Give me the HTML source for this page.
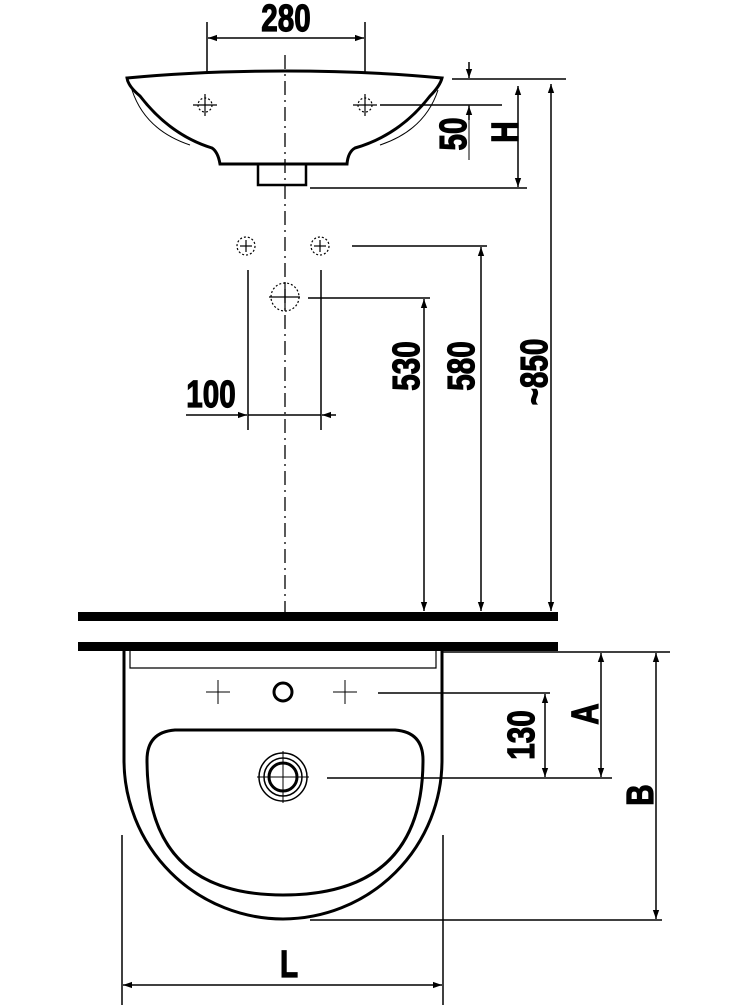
<!DOCTYPE html>
<html><head><meta charset="utf-8"><style>html,body{margin:0;padding:0;background:#fff}svg{display:block}</style></head>
<body>
<svg width="750" height="1005" viewBox="0 0 750 1005" xmlns="http://www.w3.org/2000/svg" font-family="Liberation Sans, sans-serif" font-weight="bold">
<defs>
<marker id="a" viewBox="0 0 10 10" refX="10" refY="5" markerWidth="9" markerHeight="9" orient="auto-start-reverse" markerUnits="userSpaceOnUse"><path d="M0,1.5 L10,5 L0,8.5 z" fill="#000"/></marker>
</defs>
<g stroke="#000" fill="none" stroke-width="1.5">
<line x1="207" y1="22" x2="207" y2="72"/><line x1="365" y1="22" x2="365" y2="72"/>
<line x1="208" y1="38" x2="364" y2="38" marker-start="url(#a)" marker-end="url(#a)"/>
<path d="M127,78 Q200,71 285,71 Q370,71 442,78 Q440,86 430,96 Q400,135 355,148 Q348,152 347,164 L220,164 Q218,152 212,148 Q170,135 140,96 Q128,86 127,78 Z" stroke-width="3"/>
<path d="M132,90 Q145,130 190,145 M438,90 Q425,130 380,145" stroke-width="1"/>
<path d="M258,165 L258,185 L306,185 L306,165" stroke-width="2.5"/>
<g stroke-width="1.2"><line x1="193" y1="105" x2="217" y2="105"/><line x1="205" y1="94" x2="205" y2="116"/><circle cx="205" cy="105" r="7" stroke-dasharray="2 2"/>
<line x1="353" y1="105" x2="377" y2="105"/><line x1="365" y1="94" x2="365" y2="116"/><circle cx="365" cy="105" r="7" stroke-dasharray="2 2"/></g>
<line x1="285" y1="55" x2="285" y2="612" stroke-dasharray="14 5 2 5" stroke-width="1.3"/>
<line x1="452" y1="79" x2="566" y2="79"/>
<line x1="380" y1="105" x2="502" y2="105"/>
<line x1="310" y1="188" x2="527" y2="188"/>
<line x1="469" y1="62" x2="469" y2="78" marker-end="url(#a)"/>
<line x1="469" y1="120" x2="469" y2="106" marker-end="url(#a)"/>
<line x1="469" y1="105" x2="469" y2="160" stroke-width="1"/>
<line x1="518" y1="86" x2="518" y2="187" marker-start="url(#a)" marker-end="url(#a)"/>
<line x1="551" y1="84" x2="551" y2="611" marker-start="url(#a)" marker-end="url(#a)"/>
<g stroke-width="1.2"><circle cx="246" cy="246" r="9" stroke-dasharray="2 2"/><line x1="240" y1="246" x2="252" y2="246"/><line x1="246" y1="240" x2="246" y2="252"/>
<circle cx="320" cy="246" r="9" stroke-dasharray="2 2"/><line x1="314" y1="246" x2="326" y2="246"/><line x1="320" y1="240" x2="320" y2="252"/>
<circle cx="285" cy="297" r="14" stroke-dasharray="2 2"/><line x1="269" y1="297" x2="300" y2="297"/><line x1="285" y1="283" x2="285" y2="311"/></g>
<line x1="248" y1="270" x2="248" y2="430"/><line x1="321" y1="270" x2="321" y2="430"/>
<line x1="186" y1="415" x2="247" y2="415" marker-end="url(#a)"/>
<line x1="248" y1="415" x2="321" y2="415"/>
<line x1="336" y1="415" x2="322" y2="415" marker-end="url(#a)"/>
<line x1="352" y1="246" x2="487" y2="246"/>
<line x1="308" y1="298" x2="430" y2="298"/>
<line x1="424" y1="299" x2="424" y2="611" marker-start="url(#a)" marker-end="url(#a)"/>
<line x1="481" y1="247" x2="481" y2="611" marker-start="url(#a)" marker-end="url(#a)"/>
</g>
<rect x="78" y="612" width="480" height="9" fill="#000"/>
<rect x="78" y="642" width="480" height="9" fill="#000"/>
<g stroke="#000" fill="none" stroke-width="1.5">
<path d="M124,651 L124,760 A159,159 0 0 0 442,760 L442,651" stroke-width="3"/>
<path d="M130,651 L130,668 L436,668 L436,651" stroke-width="1.2"/>
<g stroke-width="1"><line x1="206" y1="692" x2="230" y2="692"/><line x1="218" y1="680" x2="218" y2="704"/>
<line x1="333" y1="692" x2="357" y2="692"/><line x1="345" y1="680" x2="345" y2="704"/></g>
<circle cx="283" cy="692" r="9" stroke-width="3"/>
<path d="M175,730 L395,730 Q423,732 423,760 Q423,895 283,895 Q147,895 147,760 Q147,732 175,730 Z" stroke-width="3"/>
<circle cx="283" cy="777" r="24" stroke-width="1.5"/>
<circle cx="283" cy="777" r="19" stroke-width="1.5"/>
<circle cx="283" cy="777" r="14" stroke-width="3"/>
<line x1="257" y1="777" x2="309" y2="777" stroke-width="1"/><line x1="283" y1="751" x2="283" y2="803" stroke-width="1"/>
<line x1="378" y1="693" x2="550" y2="693"/>
<line x1="327" y1="778" x2="612" y2="778"/>
<line x1="442" y1="652" x2="670" y2="652"/>
<line x1="310" y1="920" x2="662" y2="920"/>
<line x1="545" y1="694" x2="545" y2="777" marker-start="url(#a)" marker-end="url(#a)"/>
<line x1="601" y1="653" x2="601" y2="777" marker-start="url(#a)" marker-end="url(#a)"/>
<line x1="656" y1="653" x2="656" y2="919" marker-start="url(#a)" marker-end="url(#a)"/>
<line x1="122" y1="835" x2="122" y2="1005"/><line x1="443" y1="835" x2="443" y2="1005"/>
<line x1="123" y1="985" x2="442" y2="985" marker-start="url(#a)" marker-end="url(#a)"/>
</g>
<g font-size="38" fill="#000" stroke="#000" stroke-width="1.2">
<text transform="translate(286,31) scale(0.78,1)" text-anchor="middle">280</text>
<text transform="translate(211,407) scale(0.78,1)" text-anchor="middle">100</text>
<text transform="translate(289,977) scale(0.78,1)" text-anchor="middle">L</text>
<text transform="translate(466,134) rotate(-90) scale(0.78,1)" text-anchor="middle">50</text>
<text transform="translate(518,132) rotate(-90) scale(0.78,1)" text-anchor="middle">H</text>
<text transform="translate(419,366) rotate(-90) scale(0.78,1)" text-anchor="middle">530</text>
<text transform="translate(474,366) rotate(-90) scale(0.78,1)" text-anchor="middle">580</text>
<text transform="translate(547,372) rotate(-90) scale(0.78,1)" text-anchor="middle">~850</text>
<text transform="translate(534,735) rotate(-90) scale(0.78,1)" text-anchor="middle">130</text>
<text transform="translate(598,714) rotate(-90) scale(0.78,1)" text-anchor="middle">A</text>
<text transform="translate(653,795) rotate(-90) scale(0.78,1)" text-anchor="middle">B</text>
</g>
</svg>
</body></html>
